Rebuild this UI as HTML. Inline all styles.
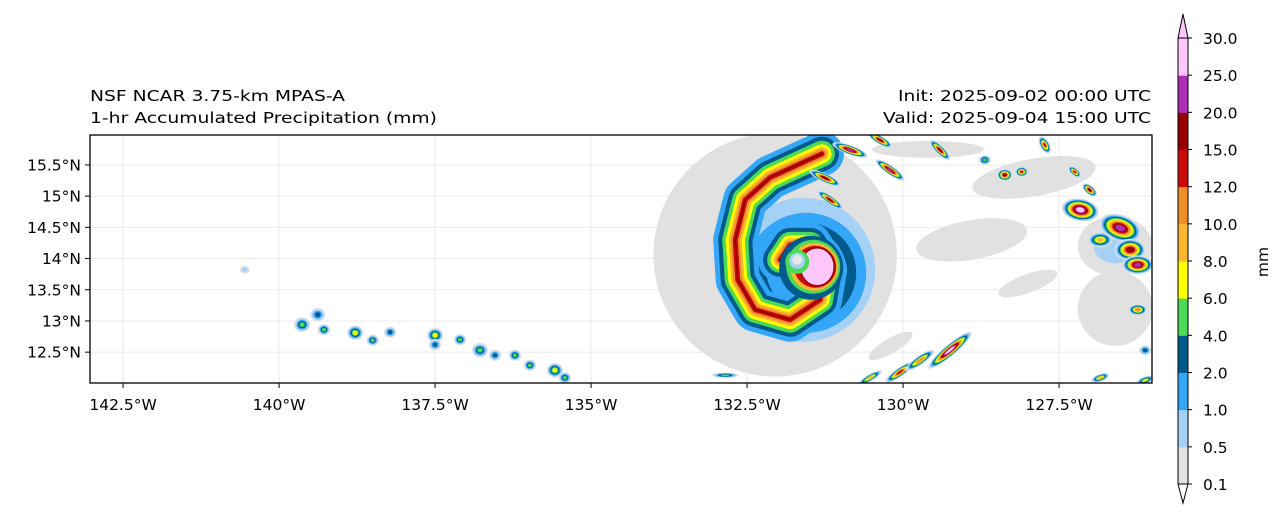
<!DOCTYPE html>
<html><head><meta charset="utf-8"><style>
body{margin:0;background:#fff;width:1286px;height:520px;overflow:hidden;font-family:"DejaVu Sans","Liberation Sans",sans-serif}
svg text{font-family:"DejaVu Sans","Liberation Sans",sans-serif;font-size:15.5px;fill:#000}
</style></head><body>
<svg id="chart" width="1286" height="520" xmlns="http://www.w3.org/2000/svg">
<text x="90" y="101" textLength="255" lengthAdjust="spacingAndGlyphs">NSF NCAR 3.75-km MPAS-A</text>
<text x="90" y="123" textLength="347" lengthAdjust="spacingAndGlyphs">1-hr Accumulated Precipitation (mm)</text>
<text x="898" y="101" textLength="253" lengthAdjust="spacingAndGlyphs">Init: 2025-09-02 00:00 UTC</text>
<text x="883" y="123" textLength="268" lengthAdjust="spacingAndGlyphs">Valid: 2025-09-04 15:00 UTC</text>
<defs><clipPath id="mapclip"><rect x="90" y="135" width="1062" height="248"/></clipPath></defs>
<g id="grid"></g>
<g id="field" clip-path="url(#mapclip)"></g>
<rect x="90" y="135" width="1062" height="248" fill="none" stroke="#000" stroke-width="1.3"/>
<g id="axes"></g>
<g id="cbar"></g>
<text x="0" y="0" transform="translate(1268,262) rotate(-90)" text-anchor="middle">mm</text>
</svg>
<script>
const levels=["0.1","0.5","1.0","2.0","4.0","6.0","8.0","10.0","12.0","15.0","20.0","25.0","30.0"];
const colors=["#e1e1e1","#a5d1f7","#33a6f8","#005a8c","#4cd955","#ffff00","#fbb731","#ef8f2c","#cc0a0a","#990000","#b02fb8","#ffc6fb"];
const lonTicks=[-142.5,-140,-137.5,-135,-132.5,-130,-127.5];
const latTicks=[12.5,13,13.5,14,14.5,15,15.5];
// storm cells: lon, lat, peak level index, extent (deg), angle, aspect
const cellLon=[-132.05,-128.9,-126.6,-127.9,-129.6,-126.6,-130.2,-128.0,
-139.63,-139.38,-139.28,-138.78,-138.5,-138.22,-137.5,-137.5,-137.1,-136.78,-136.54,-136.22,-135.98,-135.58,-135.42,-140.55,
-127.16,-126.52,-126.36,-126.24,-126.84,-128.37,-128.1,-128.69,-127.73,-127.25,-127.01,-126.24,-126.12,-126.84,-126.12,
-130.85,-130.21,-129.41,-130.37,-131.25,-131.17,
-129.25,-130.05,-129.73,-130.53,-132.85];
const cellLat=[14.06,14.3,13.2,15.3,15.75,14.2,12.6,13.6,
12.94,13.1,12.86,12.81,12.69,12.82,12.77,12.62,12.7,12.53,12.45,12.45,12.29,12.21,12.09,13.82,
14.78,14.49,14.14,13.9,14.3,15.34,15.39,15.58,15.82,15.39,15.1,13.18,12.53,12.09,12.05,
15.74,15.42,15.74,15.9,15.29,14.94,
12.53,12.18,12.37,12.09,12.13];
const cellPeak=[0,0,0,0,0,1,0,0,
4,3,4,5,4,3,5,3,4,4,3,4,4,5,4,1,
11,10,9,10,6,9,8,4,8,8,9,7,3,6,5,
10,10,9,9,9,9,
11,8,7,6,4];
const cellExt=[1.95,0.9,0.6,1.0,0.9,0.6,0.4,0.5,
0.13,0.12,0.1,0.13,0.1,0.1,0.13,0.1,0.1,0.13,0.1,0.1,0.1,0.13,0.1,0.08,
0.3,0.35,0.25,0.25,0.2,0.12,0.1,0.1,0.15,0.12,0.14,0.15,0.1,0.15,0.15,
0.3,0.28,0.22,0.22,0.28,0.25,
0.45,0.28,0.28,0.22,0.22];
const cellAng=[0,-10,10,-10,0,0,-30,-20,
0,0,0,0,0,0,0,0,0,0,0,0,0,0,0,0,
10,20,0,0,0,0,0,0,60,40,40,0,0,-20,-20,
20,35,45,30,25,35,
-40,-35,-35,-30,0];
const cellAsp=[1,0.35,1.0,0.3,0.15,0.8,0.3,0.3,
0.9,0.9,0.9,0.9,0.9,0.9,0.9,0.9,0.9,0.9,0.9,0.9,0.9,0.9,0.9,0.8,
0.6,0.6,0.7,0.6,0.6,0.8,0.8,0.8,0.5,0.5,0.5,0.6,0.8,0.4,0.4,
0.25,0.25,0.3,0.3,0.25,0.25,
0.2,0.25,0.25,0.25,0.2];
// hurricane spiral arm path
const armLon=[-131.3,-132.13,-132.53,-132.69,-132.65,-132.37,-131.81,-131.33,-131.25,-131.49,-131.81,-131.97];
const armLat=[15.68,15.3,14.94,14.3,13.66,13.18,13.02,13.34,13.82,14.22,14.22,13.98];
const armWidths=[44,34,26,19,13,9,5,2];
const eyeLon=-131.6, eyeLat=13.9;

const NS="http://www.w3.org/2000/svg";
const X=lon=>90+(lon+143.03)*62.4;
const Y=lat=>135+(15.98-lat)*62.4;
const PX=62.4;
function mk(tag,attrs,parent){const e=document.createElementNS(NS,tag);for(const k in attrs)e.setAttribute(k,attrs[k]);parent.appendChild(e);return e;}
const grid=document.getElementById('grid'),field=document.getElementById('field'),axes=document.getElementById('axes'),cbar=document.getElementById('cbar');
lonTicks.forEach(v=>{const l=mk('line',{x1:X(v),x2:X(v),y1:135,y2:383,stroke:'#ebebeb','stroke-width':1},grid);

mk('line',{x1:X(v),x2:X(v),y1:383,y2:388,stroke:'#000'},axes);
const tx=mk('text',{x:X(v),y:410,'text-anchor':'middle'},axes);tx.textContent=Math.abs(v)+'°W';
});
latTicks.forEach(v=>{const l=mk('line',{x1:90,x2:1152,y1:Y(v),y2:Y(v),stroke:'#ebebeb','stroke-width':1},grid);

mk('line',{x1:85,x2:90,y1:Y(v),y2:Y(v),stroke:'#000'},axes);
const tx=mk('text',{x:81,y:Y(v)+5.5,'text-anchor':'end'},axes);tx.textContent=v+'°N';
});
function drawCell(i){const cx=X(cellLon[i]),cy=Y(cellLat[i]);const p=cellPeak[i];
for(let k=0;k<=p;k++){const f=1-k/(p+1)*0.85;const rx=cellExt[i]*PX*f;
const e=mk('ellipse',{cx:cx,cy:cy,rx:rx,ry:rx*cellAsp[i],fill:colors[k],transform:`rotate(${cellAng[i]} ${cx} ${cy})`},field);
}}
cellPeak.forEach((p,i)=>{if(p<=1)drawCell(i);});
let d='';armLon.forEach((lo,i)=>{d+=(i?'L':'M')+X(lo)+','+Y(armLat[i]);});
const ecx=X(eyeLon),ecy=Y(eyeLat);
mk('circle',{cx:ecx,cy:ecy+5,r:72,fill:colors[1]},field);
mk('circle',{cx:ecx+3,cy:ecy+8,r:60,fill:colors[2]},field);
mk('circle',{cx:ecx+3,cy:ecy+8,r:50,fill:colors[3]},field);
mk('circle',{cx:ecx+3,cy:ecy+5,r:40,fill:colors[2]},field);
armWidths.forEach((w,k)=>{const p=mk('path',{d:d,fill:'none',stroke:colors[k+2],'stroke-width':w,'stroke-linejoin':'round','stroke-linecap':'round'},field);
});
mk('circle',{cx:ecx+8,cy:ecy+3,r:32,fill:colors[3]},field);
mk('circle',{cx:ecx+10,cy:ecy+2,r:27,fill:colors[4]},field);
mk('circle',{cx:ecx+11,cy:ecy+2,r:24,fill:colors[6]},field);
mk('circle',{cx:ecx+12,cy:ecy+2,r:21,fill:colors[8]},field);
const core=mk('ellipse',{cx:ecx+14,cy:ecy+2,rx:17,ry:19,fill:colors[11],stroke:'#990000','stroke-width':1.5},field);

const eye=mk('circle',{cx:ecx-6,cy:ecy-3,r:12,fill:colors[4]},field);

mk('circle',{cx:ecx-6,cy:ecy-4,r:8,fill:colors[1]},field);
mk('circle',{cx:ecx-6,cy:ecy-5,r:5,fill:'#e8e8e8'},field);
cellPeak.forEach((p,i)=>{if(p>1)drawCell(i);});
const cbTop=38,cbBot=484,cbX=1178,cbW=10,n=levels.length-1,step=(cbBot-cbTop)/n;
for(let k=0;k<n;k++){const r=mk('rect',{x:cbX,y:cbBot-(k+1)*step,width:cbW,height:step+0.5,fill:colors[k]},cbar);
}
mk('polygon',{points:`${cbX},${cbTop} ${cbX+cbW/2},14 ${cbX+cbW},${cbTop}`,fill:colors[11],stroke:'#000','stroke-width':1},cbar);
mk('polygon',{points:`${cbX},${cbBot} ${cbX+cbW/2},503 ${cbX+cbW},${cbBot}`,fill:'#fff',stroke:'#000','stroke-width':1},cbar);
mk('path',{d:`M${cbX},${cbTop}V${cbBot}M${cbX+cbW},${cbTop}V${cbBot}`,stroke:'#000','stroke-width':1,fill:'none'},cbar);
levels.forEach((v,k)=>{const y=cbBot-k*step;mk('line',{x1:cbX+cbW,x2:cbX+cbW+4,y1:y,y2:y,stroke:'#000'},cbar);
const t=mk('text',{x:1203,y:y+6},cbar);t.textContent=v;
});
</script>
</body></html>
